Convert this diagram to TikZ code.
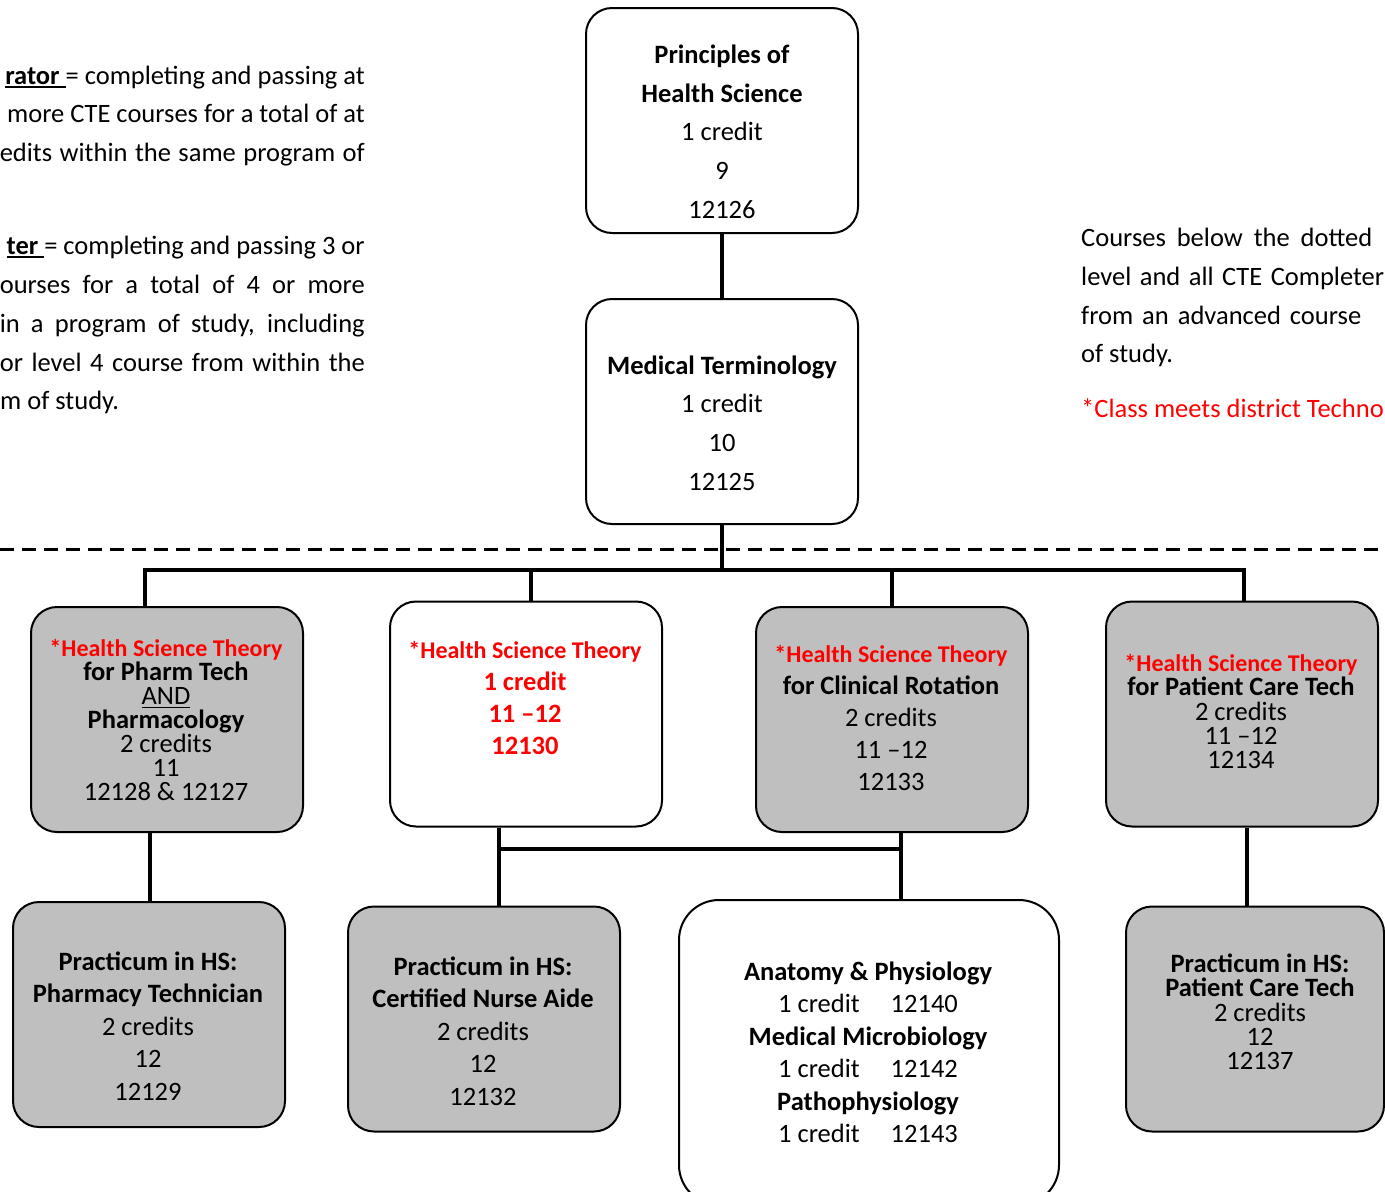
\documentclass[tikz,border=0pt]{standalone}
\usepackage{fontspec}
\setmainfont{Carlito}
\usetikzlibrary{positioning}
\definecolor{boxgray}{RGB}{191,191,191}
\definecolor{hsred}{RGB}{255,0,0}
\newcommand{\hst}{{\fontsize{24}{24}\selectfont\textcolor{hsred}{\textbf{*Health Science Theory}}}}
\newcommand{\jline}[2]{\makebox[#1][s]{#2}}
\newcommand{\uln}[2][1.8pt]{\setbox0\hbox{#2}\rlap{\rule[-4pt]{\wd0}{#1}}\box0}

\begin{document}
\begin{tikzpicture}[x=1pt, y=-1pt, line join=miter,
    course/.style={draw, line width=2pt, rounded corners=26pt, minimum width=272pt, minimum height=225pt, inner sep=0pt},
    graycourse/.style={course, fill=boxgray},
    conn/.style={line width=4.5pt},
    big/.style={align=center, inner sep=0pt, font=\fontsize{26.5}{38.7}\selectfont},
    mid/.style={align=center, inner sep=0pt, font=\fontsize{26.5}{32.5}\selectfont},
    tight/.style={align=center, inner sep=0pt, font=\fontsize{26.5}{24.3}\selectfont},
    note/.style={inner sep=0pt, font=\fontsize{26.5}{38.7}\selectfont}]
    \useasboundingbox (0,0) rectangle (1385,1192);

    % definitions, left
    \node[note, anchor=base east] (def1) at (365,84) {\uln{\textbf{rator }}= completing and passing at};
    \node[note, anchor=base east] (def2) at (365,122) {more CTE courses for a total of at};
    \node[note, anchor=base east] (def3) at (365,161) {\jline{365pt}{edits within the same program of}};
    \node[note, anchor=base east] (def4) at (365,254) {\uln{\textbf{ter }}= completing and passing 3 or};
    \node[note, anchor=base east] (def5) at (365,293) {\jline{365pt}{ourses for a total of 4 or more}};
    \node[note, anchor=base east] (def6) at (365,332) {\jline{365pt}{in a program of study, including}};
    \node[note, anchor=base east] (def7) at (365,371) {\jline{365pt}{or level 4 course from within the}};
    \node[note, anchor=base west] (def8) at (0,409) {m of study.};

    % notes, right
    \node[note, anchor=base west] (rem1) at (1081,246) {\jline{291pt}{Courses below the dotted}};
    \node[note, anchor=base west] (rem2) at (1081,285) {\jline{303pt}{level and all CTE Completer}};
    \node[note, anchor=base west] (rem3) at (1081,324) {\jline{280pt}{from an advanced course}};
    \node[note, anchor=base west] (rem4) at (1081,362) {of study.};
    \node[note, anchor=base west, text=hsred] (rem5) at (1081,417) {*Class meets district Techno};

    % level line
    \draw[line width=3pt, dash pattern=on 14pt off 8pt] (0,549) -- (1385,549);

    % boxes
    \node[course] (phs) at (722,120.5) {};
    \node[course] (medt) at (722,411.5) {};
    \node[graycourse] (pharm) at (167,719.5) {};
    \node[course] (hstw) at (526,714) {};
    \node[graycourse] (clin) at (892,719.5) {};
    \node[graycourse] (pct) at (1242,714) {};
    \node[graycourse] (prph) at (149,1014.5) {};
    \node[graycourse] (prcna) at (484,1019) {};
    \node[course, rounded corners=40pt, minimum width=380pt, minimum height=305pt] (anp) at (869,1052.5) {};
    \node[graycourse, minimum width=258pt] (prpct) at (1255,1019) {};

    % box texts
    \node[big] (phs-t) at (722,131.5) {\textbf{Principles of}\\\textbf{Health Science}\\1 credit\\9\\12126};
    \node[big] (medt-t) at (722,423) {\textbf{Medical Terminology}\\1 credit\\10\\12125};
    \node[tight, font=\fontsize{26.5}{24.1}\selectfont] (pharm-t) at (166,720) {\hst\\\textbf{for Pharm Tech}\\\uln[1.2pt]{AND}\\\textbf{Pharmacology}\\2 credits\\11\\12128 \& 12127};
    \node[mid, text=hsred, font=\fontsize{26.5}{32}\selectfont\bfseries] (hstw-t) at (525,698) {\hst\\1 credit\\11 –12\\12130};
    \node[mid, font=\fontsize{26.5}{32}\selectfont] (clin-t) at (891,718) {\hst\\\textbf{for Clinical Rotation}\\2 credits\\11 –12\\12133};
    \node[tight] (pct-t) at (1241,711.5) {\hst\\\textbf{for Patient Care Tech}\\2 credits\\11 –12\\12134};
    \node[mid] (prph-t) at (148,1026) {\textbf{Practicum in HS:}\\\textbf{Pharmacy Technician}\\2 credits\\12\\12129};
    \node[mid] (prcna-t) at (483,1031) {\textbf{Practicum in HS:}\\\textbf{Certified Nurse Aide}\\2 credits\\12\\12132};
    \node[mid] (anp-t) at (868,1052.5) {\textbf{Anatomy \& Physiology}\\1 credit\hspace{31pt}12140\\\textbf{Medical Microbiology}\\1 credit\hspace{31pt}12142\\\textbf{Pathophysiology}\\1 credit\hspace{31pt}12143};
    \node[tight] (prpct-t) at (1260,1012) {\textbf{Practicum in HS:}\\\textbf{Patient Care Tech}\\2 credits\\12\\12137};

    % connectors
    \coordinate (busr) at (1244,570);
    \coordinate (jn) at (499,849);
    \draw[conn] (phs.south) -- (medt.north);
    \draw[conn] (medt.south) -- (medt.south |- busr);
    \draw[conn] ([xshift=-22pt]pharm.north) |- (busr) -- ([xshift=2pt]pct.north);
    \draw[conn] ([xshift=5pt]hstw.north) -- ([xshift=5pt]hstw.north |- busr);
    \draw[conn] (clin.north) -- (clin.north |- busr);
    \draw[conn] ([xshift=-17pt]pharm.south) -- ([xshift=-17pt]pharm.south |- prph.north);
    \draw[conn] (jn |- hstw.south) -- (jn |- prcna.north);
    \draw[conn] ([xshift=9pt]clin.south) -- ([xshift=9pt]clin.south |- anp.north);
    \draw[conn] (jn) -- (jn -| anp.north) -- ++(32,0);
    \draw[conn] ([xshift=5pt]pct.south) -- ([xshift=5pt]pct.south |- prpct.north);
\end{tikzpicture}
\end{document}
